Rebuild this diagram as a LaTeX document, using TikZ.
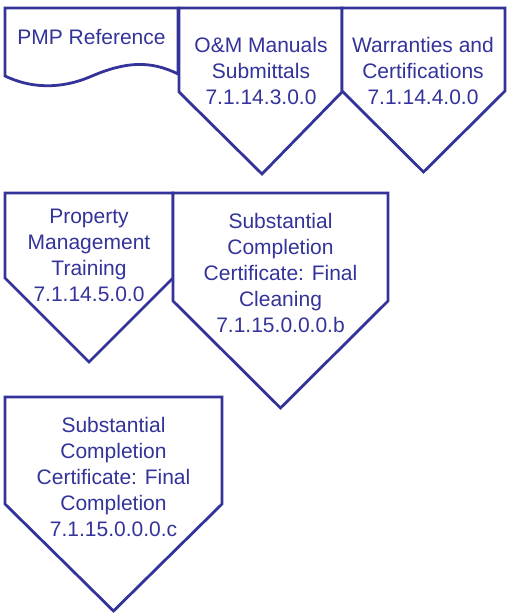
\documentclass[tikz,border=0pt]{standalone}
\usepackage{fontspec}
\setmainfont{Liberation Sans}
\usepackage{xcolor}
\usetikzlibrary{positioning}
\definecolor{pmpblue}{RGB}{51,51,153}

\begin{document}
\begin{tikzpicture}[
  x=0.5pt, y=-0.5pt,
  shp/.style={draw=pmpblue, line width=1.4pt, line join=miter, fill=white},
  lbl/.style={align=center, inner sep=0pt, text=pmpblue,
    font=\fontsize{10.5}{13}\selectfont}
]
\useasboundingbox (0,0) rectangle (507,613);

% Row 1
\draw[shp] (5,8) -- (178,8) -- (178,74)
  .. controls (150,60) and (125,62) .. (92,76)
  .. controls (60,90) and (30,88) .. (5,76) -- cycle;
\node[lbl] (pmp) at (91.5,37) {PMP Reference};

\draw[shp] (179,8) -- (342,8) -- (342,92) -- (262,174)
  -- (179,92) -- cycle;
\node[lbl] (omManuals) at (261,71)
  {O\&M Manuals\\Submittals\\7.1.14.3.0.0};

\draw[shp] (342,8) -- (505,8) -- (505,91) -- (423.5,172)
  -- (342,91) -- cycle;
\node[lbl] (warranties) at (423,71)
  {Warranties and\\Certifications\\7.1.14.4.0.0};

% Row 2
\draw[shp] (5,193) -- (173,193) -- (173,278) -- (89,362)
  -- (5,278) -- cycle;
\node[lbl] (pmTraining) at (89,255)
  {Property\\Management\\Training\\7.1.14.5.0.0};

\draw[shp] (173,193) -- (388,193) -- (388,301) -- (280.5,408)
  -- (173,301) -- cycle;
\node[lbl] (finalCleaning) at (280.5,273)
  {Substantial\\Completion\\Certificate: Final\\Cleaning\\7.1.15.0.0.0.b};

% Row 3
\draw[shp] (5,397) -- (222,397) -- (222,504) -- (113.5,611)
  -- (5,504) -- cycle;
\node[lbl] (finalCompletion) at (113.5,477)
  {Substantial\\Completion\\Certificate: Final\\Completion\\7.1.15.0.0.0.c};
\end{tikzpicture}
\end{document}
